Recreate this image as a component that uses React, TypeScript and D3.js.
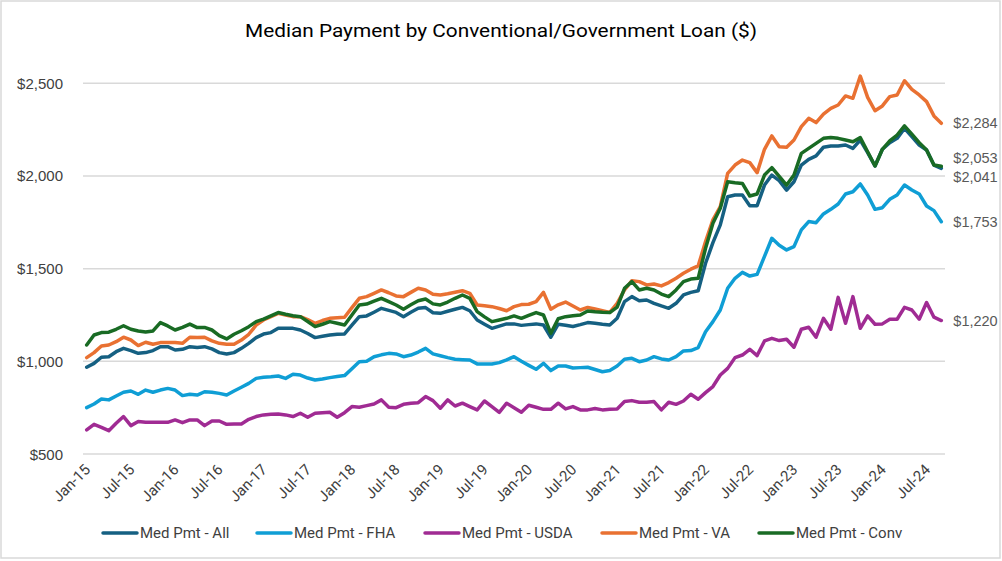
import React from 'react';
import * as d3 from 'd3';

// Monthly categories Jan-15 .. Sep-24
const categories: Date[] = d3.timeMonth.range(new Date(2015, 0, 1), new Date(2024, 9, 1));

const medPmtAll = [
  968, 989, 1022, 1025, 1052, 1070, 1058, 1043, 1047, 1058,
  1079, 1079, 1061, 1065, 1079, 1075, 1079, 1067, 1047, 1040,
  1047, 1070, 1097, 1128, 1147, 1155, 1178, 1178, 1178, 1169,
  1150, 1128, 1135, 1142, 1146, 1148, 1195, 1241, 1245, 1265,
  1286, 1275, 1264, 1241, 1265, 1286, 1290, 1262, 1259, 1270,
  1281, 1291, 1273, 1223, 1200, 1178, 1190, 1202, 1202, 1194,
  1198, 1202, 1196, 1130, 1200, 1195, 1188, 1198, 1209, 1205,
  1200, 1196, 1232, 1322, 1349, 1327, 1331, 1313, 1299, 1286,
  1313, 1358, 1372, 1381, 1529, 1640, 1736, 1888, 1897, 1897,
  1840, 1840, 1951, 2005, 1975, 1924, 1969, 2059, 2090, 2108,
  2155, 2162, 2162, 2167, 2149, 2194, 2126, 2054, 2144, 2180,
  2203, 2257, 2212, 2167, 2140, 2059, 2041,
];

const medPmtFHA = [
  750, 770, 797, 792, 813, 833, 840, 822, 845, 833,
  845, 854, 845, 815, 822, 818, 836, 833, 827, 818,
  840, 860, 881, 908, 914, 917, 921, 908, 930, 926,
  910, 899, 905, 912, 918, 923, 960, 998, 1000, 1025,
  1035, 1043, 1040, 1025, 1034, 1050, 1070, 1040, 1030, 1020,
  1011, 1009, 1007, 986, 986, 986, 993, 1008, 1025, 1000,
  978, 957, 989, 950, 975, 975, 964, 966, 968, 956,
  944, 950, 975, 1011, 1016, 998, 1007, 1025, 1013, 1007,
  1025, 1056, 1058, 1074, 1160, 1214, 1277, 1394, 1448, 1480,
  1460, 1469, 1566, 1664, 1626, 1601, 1619, 1709, 1754, 1748,
  1795, 1820, 1849, 1903, 1915, 1957, 1897, 1820, 1829, 1874,
  1897, 1951, 1924, 1903, 1838, 1813, 1753,
];

const medPmtUSDA = [
  630, 660, 644, 626, 666, 702, 653, 675, 671, 671,
  671, 671, 684, 669, 684, 684, 653, 678, 678, 660,
  662, 662, 687, 702, 711, 714, 716, 711, 702, 720,
  698, 720, 723, 725, 698, 723, 756, 752, 761, 770,
  792, 752, 750, 768, 774, 777, 810, 788, 747, 792,
  759, 774, 756, 738, 786, 756, 725, 774, 750, 725,
  763, 752, 741, 741, 774, 743, 756, 738, 738, 745,
  738, 741, 743, 783, 788, 779, 779, 783, 738, 779,
  768, 786, 822, 795, 831, 864, 926, 962, 1020, 1034,
  1065, 1031, 1110, 1124, 1112, 1119, 1076, 1173, 1184, 1130,
  1232, 1173, 1345, 1205, 1349, 1178, 1245, 1200, 1202, 1227,
  1227, 1291, 1277, 1227, 1317, 1238, 1220,
];

const medPmtVA = [
  1020, 1047, 1083, 1088, 1106, 1130, 1115, 1085, 1103, 1092,
  1101, 1101, 1101, 1097, 1130, 1128, 1130, 1110, 1097, 1092,
  1092, 1115, 1146, 1195, 1223, 1241, 1259, 1250, 1241, 1241,
  1225, 1205, 1220, 1232, 1235, 1238, 1290, 1340, 1349, 1367,
  1385, 1370, 1353, 1349, 1372, 1394, 1385, 1362, 1358, 1365,
  1373, 1381, 1367, 1304, 1300, 1295, 1285, 1273, 1295, 1306,
  1308, 1322, 1372, 1281, 1305, 1320, 1298, 1277, 1291, 1282,
  1273, 1264, 1313, 1385, 1435, 1430, 1412, 1417, 1407, 1425,
  1448, 1475, 1497, 1515, 1646, 1763, 1835, 2014, 2059, 2086,
  2072, 2018, 2144, 2216, 2158, 2155, 2194, 2266, 2311, 2288,
  2334, 2365, 2383, 2432, 2419, 2539, 2424, 2352, 2378, 2428,
  2437, 2514, 2467, 2437, 2401, 2324, 2284,
];

const medPmtConv = [
  1088, 1142, 1155, 1157, 1173, 1192, 1173, 1164, 1158, 1164,
  1209, 1191, 1169, 1183, 1201, 1182, 1183, 1169, 1139, 1121,
  1146, 1165, 1187, 1214, 1228, 1245, 1263, 1254, 1246, 1241,
  1215, 1187, 1200, 1214, 1205, 1196, 1250, 1304, 1309, 1325,
  1340, 1322, 1304, 1281, 1305, 1327, 1336, 1310, 1304, 1320,
  1340, 1358, 1340, 1268, 1240, 1214, 1223, 1232, 1245, 1232,
  1248, 1263, 1250, 1151, 1230, 1241, 1246, 1250, 1272, 1268,
  1265, 1263, 1292, 1394, 1430, 1385, 1394, 1385, 1363, 1349,
  1385, 1430, 1444, 1448, 1610, 1745, 1826, 1969, 1964, 1960,
  1892, 1903, 2005, 2045, 1998, 1951, 2005, 2122, 2149, 2176,
  2203, 2208, 2203, 2194, 2185, 2207, 2131, 2054, 2144, 2189,
  2221, 2270, 2226, 2180, 2140, 2059, 2053,
];

const seriesNames = ['Med Pmt - All', 'Med Pmt - FHA', 'Med Pmt - USDA', 'Med Pmt - VA', 'Med Pmt - Conv'];
const seriesColors = ['#156082', '#0F9ED5', '#A02B93', '#E97132', '#196B24'];
const seriesValues = [medPmtAll, medPmtFHA, medPmtUSDA, medPmtVA, medPmtConv];
const yTicks = [500, 1000, 1500, 2000, 2500];

const W = 1002;
const H = 561;
const plotLeft = 83;
const plotRight = 945;
const plotTop = 83.3;
const plotBottom = 454;

export default function App() {
  const idx = d3.range(categories.length);
  const x = d3.scalePoint<number>().domain(idx).range([plotLeft, plotRight]).padding(0.5);
  const y = d3.scaleLinear().domain([500, 2500]).range([plotBottom, plotTop]);
  const line = d3
    .line<number>()
    .x((_, i) => x(i) as number)
    .y((d) => y(d));
  const fmtTick = d3.timeFormat('%b-%y');
  const fmtMoney = (v: number) => '$' + d3.format(',')(v);

  // end labels with simple collision nudging
  const ends = seriesValues.map((s, k) => ({ k, v: s[s.length - 1], y: y(s[s.length - 1]) }));
  const sorted = [...ends].sort((a, b) => a.y - b.y);
  const minSep = 19.5;
  for (let i = 1; i < sorted.length; i++) {
    const prev = sorted[i - 1];
    const cur = sorted[i];
    if (cur.y - prev.y < minSep) {
      const mid = (cur.y + prev.y) / 2;
      prev.y = mid - minSep / 2;
      cur.y = mid + minSep / 2;
    }
  }
  const lastX = x(categories.length - 1) as number;

  const legendStarts = [103, 257, 425, 602, 759];
  const legendY = 533;

  const sansAxis = "'Liberation Sans', Arial, sans-serif";
  const sansText = "Roboto, 'Noto Sans', sans-serif";

  return (
    <svg
      width={W}
      height={H}
      viewBox={`0 0 ${W} ${H}`}
      style={{ position: 'fixed', left: 0, top: 0, background: '#fff' }}
    >
      <rect x={0} y={0} width={W} height={H} fill="#fff" />
      <rect x={1} y={1} width={999} height={557} fill="none" stroke="#d9d9d9" strokeWidth={1.5} />
      <text
        x={501}
        y={30}
        textAnchor="middle"
        dominantBaseline="central"
        fontFamily={sansText}
        fontSize={19}
        fill="#000"
        textLength={512}
        lengthAdjust="spacingAndGlyphs"
      >
        Median Payment by Conventional/Government Loan ($)
      </text>

      {yTicks.map((t) => (
        <g key={t}>
          <line x1={plotLeft} x2={plotRight} y1={y(t)} y2={y(t)} stroke="#d9d9d9" strokeWidth={1.5} />
          <text
            x={63}
            y={y(t)}
            textAnchor="end"
            dominantBaseline="central"
            fontFamily={sansAxis}
            fontSize={15}
            fill="#404040"
          >
            {fmtMoney(t)}
          </text>
        </g>
      ))}

      {categories.map((d, i) =>
        i % 6 === 0 ? (
          <text
            key={i}
            transform={`translate(${(x(i) as number) + 1},${467}) rotate(-45)`}
            textAnchor="end"
            dominantBaseline="central"
            fontFamily={sansText}
            fontSize={15}
            fill="#404040"
          >
            {fmtTick(d)}
          </text>
        ) : null
      )}

      {seriesValues.map((s, k) => (
        <path
          key={k}
          d={line(s) as string}
          fill="none"
          stroke={seriesColors[k]}
          strokeWidth={3.5}
          strokeLinejoin="round"
          strokeLinecap="round"
        />
      ))}

      {ends.map((e) => (
        <text
          key={e.k}
          x={lastX + 12}
          y={e.y}
          dominantBaseline="central"
          fontFamily={sansAxis}
          fontSize={14.5}
          fill="#595959"
        >
          {fmtMoney(e.v)}
        </text>
      ))}

      {seriesNames.map((n, k) => (
        <g key={n} transform={`translate(${legendStarts[k]},${legendY})`}>
          <line x1={0} x2={34} y1={0} y2={0} stroke={seriesColors[k]} strokeWidth={3.5} strokeLinecap="round" />
          <text x={37} y={0} dominantBaseline="central" fontFamily={sansText} fontSize={15} fill="#404040">
            {n}
          </text>
        </g>
      ))}
    </svg>
  );
}
